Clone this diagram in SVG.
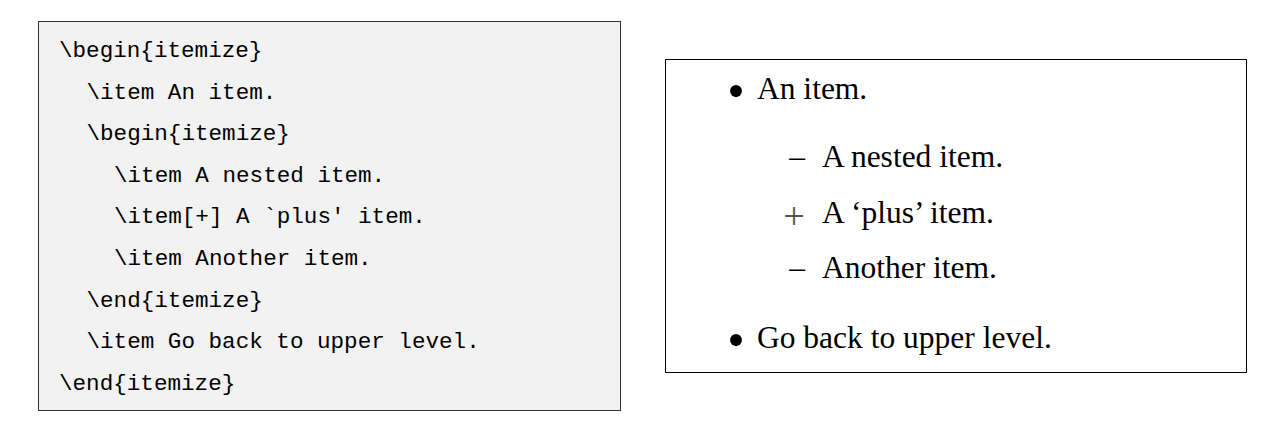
<svg xmlns="http://www.w3.org/2000/svg" width="1277" height="423" viewBox="0 0 1277 423">
<style>
.code{font-family:"Liberation Mono","DejaVu Sans Mono",monospace;font-size:22.6px;fill:#000;white-space:pre}
.rm{font-family:"Liberation Serif","DejaVu Serif",serif;font-size:31.5px;fill:#000}
.bul{font-family:"Liberation Serif","DejaVu Serif",serif;font-size:50px;fill:#000}
.lbl{font-family:"Liberation Serif","DejaVu Serif",serif;font-size:31.5px;fill:#000}
.plus{fill:#555;font-size:38px}
</style>
<rect width="1277" height="423" fill="#fff"/>
<g id="source">
<rect x="38.5" y="21.5" width="582" height="389" fill="#f2f2f2" stroke="#333" stroke-width="1"/>
<text class="code" x="59" y="57">\begin{itemize}</text>
<text class="code" x="86.5" y="98.6">\item An item.</text>
<text class="code" x="86.5" y="140.2">\begin{itemize}</text>
<text class="code" x="114" y="181.8">\item A nested item.</text>
<text class="code" x="114" y="223.4">\item[+] A `plus' item.</text>
<text class="code" x="114" y="265">\item Another item.</text>
<text class="code" x="86.5" y="306.6">\end{itemize}</text>
<text class="code" x="86.5" y="348.2">\item Go back to upper level.</text>
<text class="code" x="59" y="389.8">\end{itemize}</text>
</g>
<g id="output">
<rect x="665.5" y="59.5" width="581" height="313" fill="#fff" stroke="#000" stroke-width="1"/>
<text class="bul" x="736" y="108" text-anchor="middle">•</text>
<text class="rm" x="757" y="99">An item.</text>
<text class="lbl" x="797" y="167" text-anchor="middle">–</text>
<text class="rm" x="822" y="167">A nested item.</text>
<text class="lbl plus" x="794" y="229" text-anchor="middle">+</text>
<text class="rm" x="822" y="223">A ‘plus’ item.</text>
<text class="lbl" x="797" y="278" text-anchor="middle">–</text>
<text class="rm" x="822" y="278">Another item.</text>
<text class="bul" x="736" y="357" text-anchor="middle">•</text>
<text class="rm" x="757" y="348">Go back to upper level.</text>
</g>
</svg>
